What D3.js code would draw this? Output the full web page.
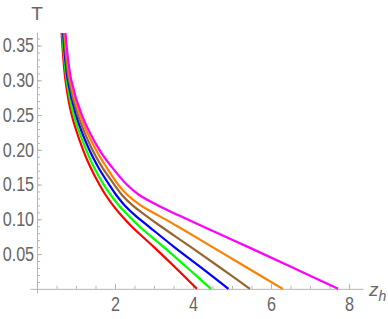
<!DOCTYPE html>
<html>
<head>
<meta charset="utf-8">
<script src="https://cdn.jsdelivr.net/npm/d3@7"></script>
<style>
  body { margin: 0; background: #fff; }
  .tick text { font-family: "Liberation Sans", sans-serif; font-size: 19.5px; fill: #666; }
  .domain { stroke: #b5b5b5; }
  .tick line { stroke: #b5b5b5; }
</style>
</head>
<body>
<svg id="chart" width="388" height="319"></svg>
<script>
var tLevels = [0.368, 0.30, 0.25, 0.20, 0.175, 0.15, 0.135, 0.12, 0.105, 0.09, 0.06, 0.03, 0];
// z_h of each curve at those T levels
var zRed     = [0.63, 0.73, 0.89, 1.18, 1.37, 1.60, 1.76, 1.95, 2.17, 2.42, 3.00, 3.56, 4.10];
var zGreen   = [0.65, 0.76, 0.94, 1.26, 1.46, 1.71, 1.89, 2.10, 2.35, 2.62, 3.25, 3.86, 4.46];
var zBlue    = [0.67, 0.79, 1.00, 1.34, 1.57, 1.85, 2.03, 2.25, 2.53, 2.86, 3.52, 4.22, 4.91];
var zBrown   = [0.69, 0.82, 1.05, 1.42, 1.67, 1.98, 2.18, 2.45, 2.80, 3.17, 3.95, 4.71, 5.46];
var zOrange  = [0.71, 0.85, 1.10, 1.51, 1.78, 2.08, 2.32, 2.66, 3.13, 3.60, 4.50, 5.40, 6.30];
var zMagenta = [0.73, 0.88, 1.15, 1.60, 1.92, 2.30, 2.62, 3.10, 3.66, 4.24, 5.42, 6.58, 7.72];

var curves = [zRed, zGreen, zBlue, zBrown, zOrange, zMagenta];
var colors = ['#ff0000', '#00ff00', '#0000ff', '#996633', '#ff8000', '#ff00ff'];

var xMajor = [2, 4, 6, 8];
var yMajor = [0.05, 0.10, 0.15, 0.20, 0.25, 0.30, 0.35];
var xMinor = d3.range(1, 17).map(function (i) { return i * 0.5; });
var yMinor = d3.range(1, 37).map(function (i) { return i * 0.01; });

var svg = d3.select('#chart');

var xScale = d3.scaleLinear().domain([-0.18, 8.36]).range([30, 363]);
var yScale = d3.scaleLinear().domain([-0.006, 0.3695]).range([293, 32]);

svg.append('clipPath').attr('id', 'clip')
  .append('rect')
  .attr('x', xScale(-0.18)).attr('y', yScale(0.3695))
  .attr('width', xScale(8.36) - xScale(-0.18))
  .attr('height', yScale(-0.006) - yScale(0.3695));

// minor ticks
svg.append('g')
  .attr('transform', 'translate(0,' + yScale(0) + ')')
  .call(d3.axisBottom(xScale).tickValues(xMinor).tickSizeInner(-3).tickSizeOuter(0).tickFormat(''))
  .call(function (g) { g.select('.domain').remove(); });

svg.append('g')
  .attr('transform', 'translate(' + xScale(0) + ',0)')
  .call(d3.axisLeft(yScale).tickValues(yMinor).tickSizeInner(-3).tickSizeOuter(0).tickFormat(''))
  .call(function (g) { g.select('.domain').remove(); });

// x axis
svg.append('g')
  .attr('transform', 'translate(0,' + yScale(0) + ')')
  .call(d3.axisBottom(xScale).tickValues(xMajor).tickSizeInner(-5).tickSizeOuter(0).tickPadding(8).tickFormat(d3.format('d')))
  .selectAll('.tick text').attr('transform', 'scale(0.83,1)');

// y axis
svg.append('g')
  .attr('transform', 'translate(' + xScale(0) + ',0)')
  .call(d3.axisLeft(yScale).tickValues(yMajor).tickSizeInner(-5).tickSizeOuter(0).tickPadding(3.5).tickFormat(d3.format('.2f')))
  .selectAll('.tick text').attr('transform', 'scale(0.83,1)');

var line = d3.line()
  .x(function (d) { return xScale(d[0]); })
  .y(function (d) { return yScale(d[1]); })
  .curve(d3.curveCatmullRom.alpha(0.5));

var plot = svg.append('g').attr('clip-path', 'url(#clip)');
curves.forEach(function (zs, i) {
  var pts = zs.map(function (z, j) { return [z, tLevels[j]]; });
  plot.append('path')
    .datum(pts)
    .attr('fill', 'none')
    .attr('stroke', colors[i])
    .attr('stroke-width', 2.2)
    .attr('d', line);
});

// axis labels
svg.append('text')
  .attr('x', xScale(0))
  .attr('y', 20)
  .attr('text-anchor', 'middle')
  .style('font-family', '"Liberation Sans", sans-serif')
  .style('font-size', '19px')
  .style('fill', '#666')
  .text('T');

var zl = svg.append('text')
  .attr('x', 369)
  .attr('y', 296)
  .style('font-family', '"Liberation Sans", sans-serif')
  .style('font-size', '19px')
  .style('font-style', 'italic')
  .style('fill', '#666');
zl.append('tspan').text('z');
zl.append('tspan').attr('dy', 5).style('font-size', '14px').text('h');
</script>
</body>
</html>
